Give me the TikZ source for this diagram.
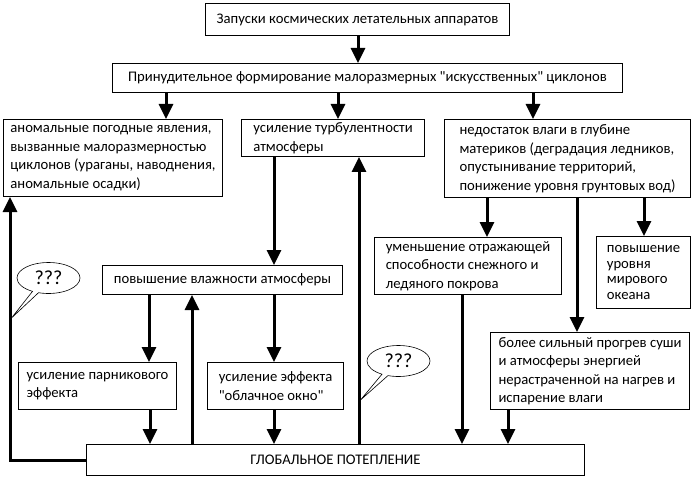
\documentclass[tikz,border=0pt]{standalone}
\usepackage{fontspec}
\setmainfont{Carlito}
\usetikzlibrary{arrows.meta,shapes.callouts}
\newcommand{\boxfont}{\fontsize{14.67}{18.5}\selectfont}
\tikzset{
  box/.style={draw, line width=1pt, anchor=north west, inner xsep=2pt, inner ysep=0pt, align=left, font=\boxfont},
  arr/.style={line width=3pt, -{Triangle[length=15pt,width=14pt]}},
  bubble/.style={ellipse callout, draw, line width=0.6pt, minimum width=63pt, minimum height=31pt, inner sep=0pt, callout pointer arc=12, font=\fontsize{20}{22}\selectfont}
}
\begin{document}
\begin{tikzpicture}[x=1pt,y=-1pt]
\useasboundingbox (0,0) rectangle (692,478);
% boxes
\node[box, align=center, minimum width=304pt, minimum height=32pt] (launch) at (205,3) {Запуски космических летательных аппаратов};
\node[box, align=center, minimum width=510pt, minimum height=29pt] (forced) at (112,63) {Принудительное формирование малоразмерных \textquotedbl искусственных\textquotedbl{} циклонов};
\node[box, minimum width=219pt, minimum height=77pt] (anom) at (3,119) {аномальные погодные явления,\\вызванные малоразмерностью\\циклонов (ураганы, наводнения,\\аномальные осадки)};
\node[box, minimum width=183pt, minimum height=37pt] (turb) at (241,119) {усиление турбулентности\\атмосферы};
\node[box, minimum width=246pt, minimum height=78pt] (lack) at (444,119) {недостаток влаги в глубине\\материков (деградация ледников,\\опустынивание территорий,\\понижение уровня грунтовых вод)};
\node[box, minimum width=187pt, minimum height=57pt] (albedo) at (374,237) {уменьшение отражающей\\способности снежного и\\ледяного покрова};
\node[box, minimum width=94pt, minimum height=72pt, font=\fontsize{14.67}{15.7}\selectfont] (ocean) at (596,236) {повышение\\уровня\\мирового\\океана};
\node[box, minimum width=199pt, minimum height=77pt] (heat) at (490,332) {более сильный прогрев суши\\и атмосферы энергией\\нерастраченной на нагрев и\\испарение влаги};
\node[box, align=center, minimum width=240pt, minimum height=29pt] (humid) at (102,265) {повышение влажности атмосферы};
\node[box, minimum width=158pt, minimum height=47pt] (green) at (18,362) {усиление парникового\\эффекта};
\node[box, minimum width=136pt, minimum height=47pt] (cloud) at (207,362) {усиление эффекта\\\textquotedbl облачное окно\textquotedbl};
\node[box, align=center, minimum width=498pt, minimum height=31pt] (warm) at (86,444) {ГЛОБАЛЬНОЕ ПОТЕПЛЕНИЕ};
% arrows
\draw[arr] (launch.south -| 358,0) -- (forced.north -| 358,0);
\draw[arr] (forced.south -| 166,0) -- (anom.north -| 166,0);
\draw[arr] (forced.south -| 338,0) -- (turb.north -| 338,0);
\draw[arr] (forced.south -| 533,0) -- (lack.north -| 533,0);
\draw[arr] (turb.south -| 274,0) -- (humid.north -| 274,0);
\draw[arr] (humid.south -| 149,0) -- (green.north -| 149,0);
\draw[arr] (humid.south -| 274,0) -- (cloud.north -| 274,0);
\draw[arr] (green.south -| 150,0) -- (warm.north -| 150,0);
\draw[arr] (cloud.south -| 274,0) -- (warm.north -| 274,0);
\draw[arr] (warm.north -| 192,0) -- (humid.south -| 192,0);
\draw[arr] (warm.north -| 359,0) -- (turb.south -| 359,0);
\draw[arr] (warm.west) -| (anom.south -| 10,0);
\draw[arr] (lack.south -| 487,0) -- (albedo.north -| 487,0);
\draw[arr] (lack.south -| 577,0) -- (heat.north -| 577,0);
\draw[arr] (lack.south -| 644,0) -- (ocean.north -| 644,0);
\draw[arr] (albedo.south -| 462,0) -- (warm.north -| 462,0);
\draw[arr] (heat.south -| 508,0) -- (warm.north -| 508,0);
% callouts
\node[bubble, callout absolute pointer={(11.5,318)}] (ask1) at (48.5,278) {???};
\node[bubble, callout absolute pointer={(360.5,400)}] (ask2) at (398.5,361) {???};
\end{tikzpicture}
\end{document}
